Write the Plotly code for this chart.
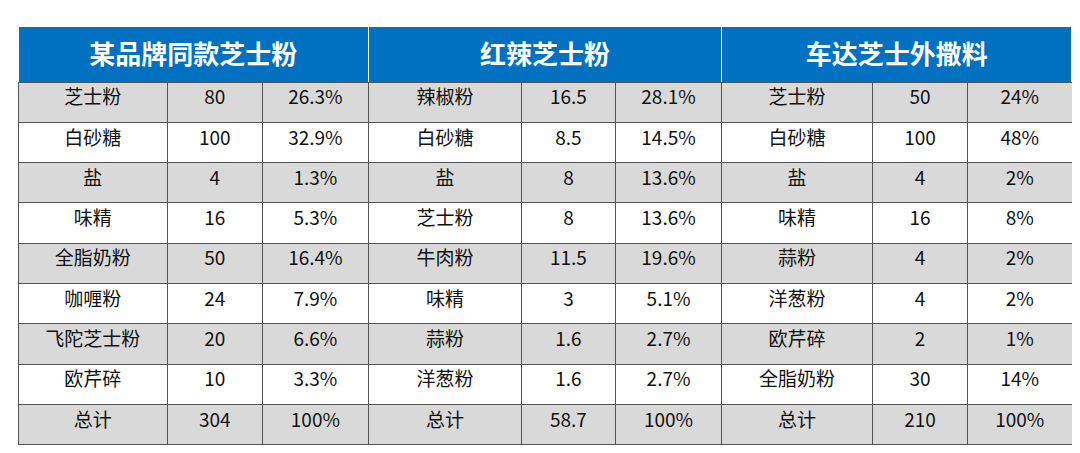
import plotly.graph_objects as go

W, H = 1080, 453

groups = ["某品牌同款芝士粉", "红辣芝士粉", "车达芝士外撒料"]

names1 = ["芝士粉", "白砂糖", "盐", "味精", "全脂奶粉", "咖喱粉", "飞陀芝士粉", "欧芹碎", "总计"]
qty1 = ["80", "100", "4", "16", "50", "24", "20", "10", "304"]
pct1 = ["26.3%", "32.9%", "1.3%", "5.3%", "16.4%", "7.9%", "6.6%", "3.3%", "100%"]

names2 = ["辣椒粉", "白砂糖", "盐", "芝士粉", "牛肉粉", "味精", "蒜粉", "洋葱粉", "总计"]
qty2 = ["16.5", "8.5", "8", "8", "11.5", "3", "1.6", "1.6", "58.7"]
pct2 = ["28.1%", "14.5%", "13.6%", "13.6%", "19.6%", "5.1%", "2.7%", "2.7%", "100%"]

names3 = ["芝士粉", "白砂糖", "盐", "味精", "蒜粉", "洋葱粉", "欧芹碎", "全脂奶粉", "总计"]
qty3 = ["50", "100", "4", "16", "4", "4", "2", "30", "210"]
pct3 = ["24%", "48%", "2%", "8%", "2%", "2%", "1%", "14%", "100%"]

cols = [names1, qty1, pct1, names2, qty2, pct2, names3, qty3, pct3]
widths = [150, 95, 107, 153, 95, 106, 152, 95, 105]

font = "Noto Sans CJK SC"
line_c = "#555555"
grey, white, blue = "#D9D9D9", "#FFFFFF", "#0070C0"

row_h = 40.3
n = len(names1)
fills = [grey if (i % 2 == 0) else white for i in range(n)]
body_fill = [fills[1:]] * 9

x0, x1 = 10 / W, 1064 / W

fig = go.Figure()
fig.add_trace(go.Table(
    domain=dict(x=[x0, x1], y=[1 - 82 / H, 1 - 18 / H]),
    columnwidth=[352, 354, 352],
    header=dict(values=[f"<b>{g}</b>" for g in groups], fill_color=blue, height=64,
                line=dict(color=white, width=1.5), align="center",
                font=dict(family=font, size=26, color="white")),
    cells=dict(values=[[], [], []], height=0),
))
fig.add_trace(go.Table(
    domain=dict(x=[x0, x1], y=[0, 1 - 74 / H]),
    columnwidth=widths,
    header=dict(values=[c[0] for c in cols], fill_color=grey, height=row_h,
                line=dict(color=line_c, width=1), align="center",
                font=dict(family=font, size=19, color="#111111")),
    cells=dict(values=[c[1:] for c in cols], fill_color=body_fill, height=row_h,
               line=dict(color=line_c, width=1), align="center",
               font=dict(family=font, size=19, color="#111111")),
))
fig.update_layout(width=W, height=H, margin=dict(l=0, r=0, t=0, b=0),
                  paper_bgcolor="white")
fig.write_html("out.html")
